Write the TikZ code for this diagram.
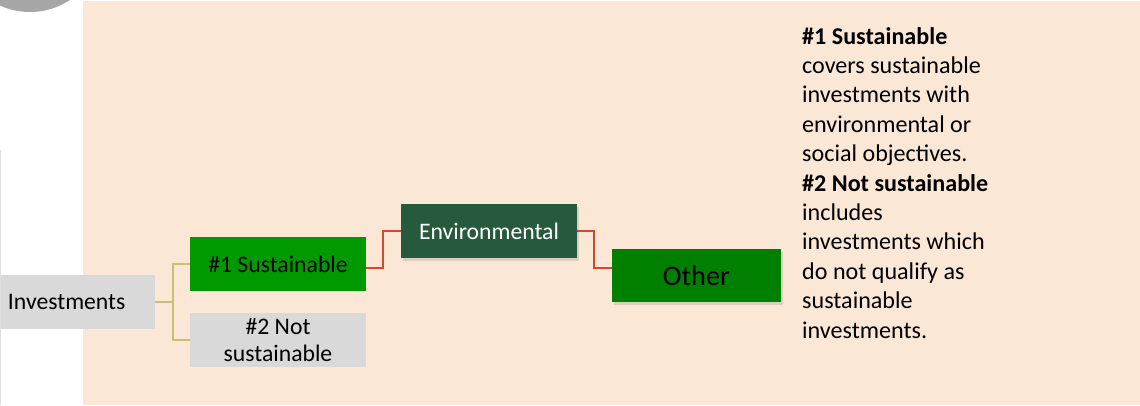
\documentclass[tikz,border=0pt]{standalone}
\usepackage{fontspec}
\setmainfont{Carlito}
\usetikzlibrary{shadows,calc}
\definecolor{beige}{HTML}{FAE7D6}
\definecolor{greenA}{HTML}{009900}
\definecolor{othgreen}{HTML}{007F00}
\definecolor{envgreen}{HTML}{265A3C}
\definecolor{boxgray}{HTML}{D9D9D9}
\definecolor{lineyellow}{HTML}{C9BF6E}
\definecolor{linered}{HTML}{D24A2C}
\definecolor{circgray}{HTML}{A6A6A6}
\begin{document}
\begin{tikzpicture}[x=1pt,y=-1pt,
  box/.style={minimum width=176pt, minimum height=54pt, inner sep=0pt, align=center,
    font=\fontsize{23.7}{26.5}\selectfont},
  shad/.style={drop shadow={shadow xshift=1.5pt, shadow yshift=-3pt, opacity=0.25}},
  yline/.style={draw=lineyellow, line width=1.6pt},
  rline/.style={draw=linered, line width=1.6pt}]
\useasboundingbox (0,0) rectangle (1140,405);
\fill[beige] (83,1) rectangle (1140,405);
\fill[circgray] (30,-60) circle (72);
\draw[gray!25, line width=0.8pt] (0.5,150) -- (0.5,405);

\node[box, fill=boxgray, minimum width=154pt, inner xsep=7pt, text width=140pt, align=left] (inv) at (78,302) {Investments};
\node[box, fill=greenA] (s1) at (278,264) {\#1 Sustainable};
\node[box, fill=boxgray] (s2) at (278,340) {\#2 Not\\sustainable};
\node[box, fill=envgreen, text=white, shad] (env) at (489,231) {Environmental};
\node[box, fill=othgreen, shad, minimum width=169pt, minimum height=53pt,
  font=\fontsize{28.3}{32}\selectfont] (oth) at (696.5,275.5) {Other};

\node[anchor=base west, inner sep=0pt, align=left,
  font=\fontsize{24.1}{29.4}\selectfont] (txt) at (802,338)
  {\textbf{\#1 Sustainable}\\
   covers sustainable\\
   investments with\\
   environmental or\\
   social objectives.\\
   \textbf{\#2 Not sustainable}\\
   includes\\
   investments which\\
   do not qualify as\\
   sustainable\\
   investments.};

\draw[yline] (inv.east) -- ++(18,0) |- (s1.west);
\draw[yline] (inv.east) -- ++(18,0) |- (s2.west);
\draw[rline] ($(s1.east)+(0,4)$) -- ++(17,0) |- (env.west);
\draw[rline] (env.east) -- ++(17,0) |- ($(oth.west)+(0,-7.5)$);
\end{tikzpicture}
\end{document}
